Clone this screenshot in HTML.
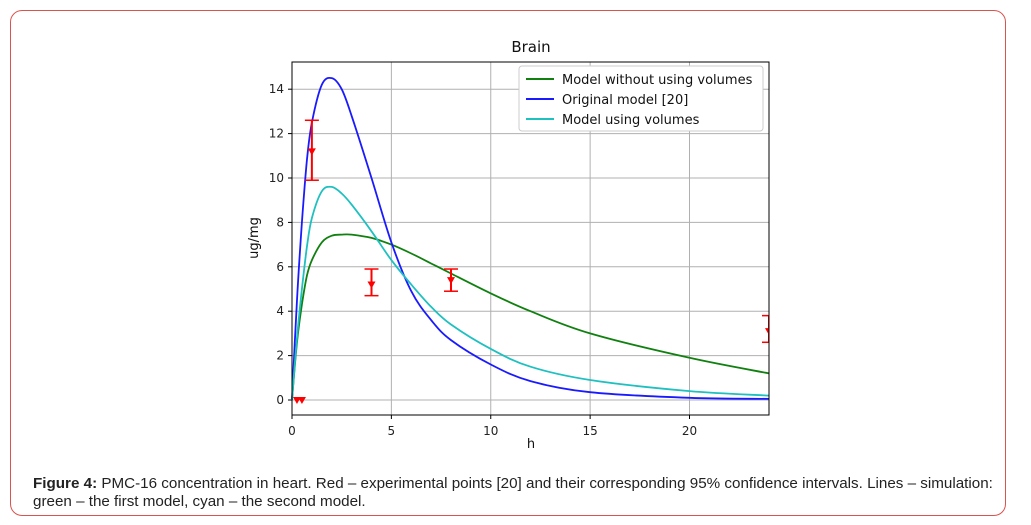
<!DOCTYPE html>
<html><head><meta charset="utf-8"><style>
body{margin:0;width:1031px;height:525px;background:#fff;font-family:"Liberation Sans",sans-serif;overflow:hidden}
#frame{position:absolute;left:10px;top:10px;width:994px;height:504px;border:1px solid #d9534f;border-radius:12px}
#cap{position:absolute;left:33px;top:475px;width:990px;font-size:15.2px;line-height:18px;color:#222;white-space:nowrap}
svg{position:absolute;left:0;top:0;font-family:"DejaVu Sans",sans-serif}
</style></head><body>
<div id="frame"></div>
<svg id="chart" width="1031" height="525"></svg>
<div id="cap"><b>Figure 4:</b> PMC-16 concentration in heart. Red – experimental points [20] and their corresponding 95% confidence intervals. Lines – simulation:<br>green – the first model, cyan – the second model.</div>
<script>
const xTicks=[0,5,10,15,20];
const yTicks=[0,2,4,6,8,10,12,14];
const tGrid=[0,0.25,0.5,0.75,1,1.5,2,2.5,3,4,5,6,7,8,10,12,15,20,24];
const greenVals=[0,2.6,4.3,5.6,6.3,7.1,7.4,7.45,7.45,7.3,7.0,6.6,6.15,5.7,4.8,4.0,3.0,1.9,1.2];
const blueVals=[0,4.5,8.0,10.8,12.5,14.2,14.5,14.0,12.8,10.0,7.1,4.9,3.6,2.7,1.6,0.85,0.35,0.1,0.05];
const cyanVals=[0,2.8,5.0,6.9,8.2,9.4,9.6,9.3,8.8,7.6,6.3,5.2,4.2,3.4,2.3,1.5,0.9,0.4,0.2];
const expT=[0.25,0.5,1,4,8,24];
const expY=[0,0,11.2,5.2,5.4,3.1];
const expLo=[0,0,9.9,4.7,4.9,2.6];
const expHi=[0,0,12.6,5.9,5.9,3.8];
const L=292,R=769,T=62,B=415;
const X=v=>L+v*(R-L)/24;
const Y=v=>400-v*22.2;
const svg=document.getElementById('chart');
const NS='http://www.w3.org/2000/svg';
function mk(tag,attrs,text){const e=document.createElementNS(NS,tag);for(const k in attrs)e.setAttribute(k,attrs[k]);if(text!==undefined)e.textContent=text;svg.appendChild(e);return e;}
xTicks.forEach(v=>{
 const g=mk('line',{x1:X(v),x2:X(v),y1:T,y2:B,stroke:'#b0b0b0','stroke-width':1});
 
 
 mk('line',{x1:X(v),x2:X(v),y1:B,y2:B+4,stroke:'#000'});
 const t=mk('text',{x:X(v),y:B+20,'font-size':12,'text-anchor':'middle',fill:'#222'},v);
 
 
});
yTicks.forEach(v=>{
 const g=mk('line',{x1:L,x2:R,y1:Y(v),y2:Y(v),stroke:'#b0b0b0','stroke-width':1});
 
 
 mk('line',{x1:L-4,x2:L,y1:Y(v),y2:Y(v),stroke:'#000'});
 const t=mk('text',{x:L-8,y:Y(v)+4,'font-size':12,'text-anchor':'end',fill:'#222'},v);
 
 
});
function line(vals,color,name){
 const P=tGrid.map((t,i)=>[X(t),Y(vals[i])]);
 let d='M'+P[0][0]+','+P[0][1];
 for(let i=0;i<P.length-1;i++){
  const p0=P[Math.max(0,i-1)],p1=P[i],p2=P[i+1],p3=P[Math.min(P.length-1,i+2)];
  const c1=[p1[0]+(p2[0]-p0[0])/6,p1[1]+(p2[1]-p0[1])/6];
  const c2=[p2[0]-(p3[0]-p1[0])/6,p2[1]-(p3[1]-p1[1])/6];
  d+=` C${c1[0].toFixed(1)},${c1[1].toFixed(1)} ${c2[0].toFixed(1)},${c2[1].toFixed(1)} ${p2[0].toFixed(1)},${p2[1].toFixed(1)}`;
 }
 const p=mk('path',{d:d,fill:'none',stroke:color,'stroke-width':1.8,'stroke-linejoin':'round'});
 
 
}
const clip=mk('clipPath',{id:'c'});
const cr=document.createElementNS(NS,'rect');cr.setAttribute('x',L);cr.setAttribute('y',T);cr.setAttribute('width',R-L);cr.setAttribute('height',B-T);clip.appendChild(cr);
line(greenVals,'#108010','green-series');
line(blueVals,'#1a1aff','blue-series');
line(cyanVals,'#1ec0c0','cyan-series');
const eg=document.createElementNS(NS,'g');eg.setAttribute('clip-path','url(#c)');svg.appendChild(eg);
expT.forEach((t,i)=>{
 const x=X(t);
 const g=document.createElementNS(NS,'g');
 
 
 g.innerHTML=`<line x1="${x}" x2="${x}" y1="${Y(expLo[i])}" y2="${Y(expHi[i])}" stroke="red" stroke-width="2"/>`+
 (expHi[i]>expLo[i]?`<line x1="${x-7}" x2="${x+7}" y1="${Y(expLo[i])}" y2="${Y(expLo[i])}" stroke="red" stroke-width="1.5"/><line x1="${x-7}" x2="${x+7}" y1="${Y(expHi[i])}" y2="${Y(expHi[i])}" stroke="red" stroke-width="1.5"/>`:'')+
 `<polygon points="${x-4},${Y(expY[i])-3} ${x+4},${Y(expY[i])-3} ${x},${Y(expY[i])+4}" fill="red"/>`;
 eg.appendChild(g);
});
mk('rect',{x:L,y:T,width:R-L,height:B-T,fill:'none',stroke:'#000','stroke-width':1});
const tt=mk('text',{x:531,y:52,'font-size':15,'text-anchor':'middle',fill:'#111'},'Brain');

const xl=mk('text',{x:531,y:448,'font-size':13,'text-anchor':'middle',fill:'#111'},'h');

const yl=mk('text',{x:258,y:238,'font-size':13,'text-anchor':'middle',fill:'#111',transform:'rotate(-90 258 238)'},'ug/mg');

const lg=mk('rect',{x:519,y:66,width:244,height:65,fill:'#fff',stroke:'#ccc',rx:3});

[['Model without using volumes','#108010'],['Original model [20]','#1a1aff'],['Model using volumes','#1ec0c0']].forEach((e,i)=>{
 const y=79+i*20;
 mk('line',{x1:526,x2:554,y1:y,y2:y,stroke:e[1],'stroke-width':2});
 const t=mk('text',{x:562,y:y+5,'font-size':13,fill:'#111'},e[0]);
 
});
</script>
</body></html>
